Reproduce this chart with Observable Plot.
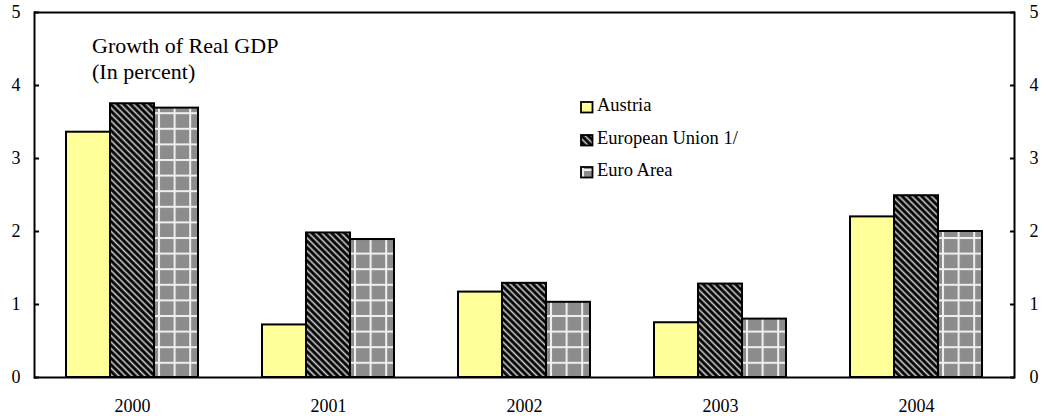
<!DOCTYPE html>
<html><head><meta charset="utf-8">
<script src="https://cdn.jsdelivr.net/npm/d3@7"></script>
<script src="https://cdn.jsdelivr.net/npm/@observablehq/plot@0.6"></script>
<style>
body{margin:0;background:#fff;font-family:"Liberation Serif","Times New Roman",serif;color:#000;}
#wrap{position:relative;width:1052px;height:416px;}
#title{position:absolute;left:92px;top:32.5px;font-size:22px;line-height:26.7px;white-space:nowrap;}
.lrow{position:absolute;left:580px;font-size:18.5px;line-height:18px;white-space:nowrap;}
.lrow svg{position:absolute;left:0;top:5px;}
.lrow span{position:absolute;left:17px;top:0;}
svg text{font-family:"Liberation Serif","Times New Roman",serif;}
</style></head><body>
<svg width="0" height="0" style="position:absolute">
<defs>
<pattern id="pat-eu" patternUnits="userSpaceOnUse" width="4.6" height="4.6" patternTransform="rotate(45)">
<rect width="4.6" height="4.6" fill="#000"/>
<rect x="0" y="1.5" width="4.6" height="1.6" fill="#d0d0d0"/>
</pattern>
<pattern id="pat-ea" patternUnits="userSpaceOnUse" width="15.6" height="15.6" x="2" y="3">
<rect width="15.6" height="15.6" fill="#8c8c8c"/>
<rect x="0" y="0" width="15.6" height="2" fill="#f0f0f0"/>
<rect x="0" y="0" width="2" height="15.6" fill="#f0f0f0"/>
</pattern>
</defs>
</svg>
<div id="wrap">
<div id="chart"></div>
<div id="title">Growth of Real GDP<br>(In percent)</div>
<div id="legend"></div>
</div>
<script>
const years = ["2000", "2001", "2002", "2003", "2004"];
const series = ["Austria", "European Union 1/", "Euro Area"];
const austria = [3.36, 0.72, 1.17, 0.75, 2.20];
const eu = [3.75, 1.98, 1.29, 1.28, 2.49];
const euroArea = [3.69, 1.89, 1.03, 0.80, 2.00];
const yTicks = [0, 1, 2, 3, 4, 5];
const fills = ["#ffff99", "url(#pat-eu)", "url(#pat-ea)"];

const valuesBySeries = [austria, eu, euroArea];
const data = years.flatMap((yr, i) => series.map((s, j) => ({year: yr, series: s, value: valuesBySeries[j][i]})));

const font = '"Liberation Serif","Times New Roman",serif';
const plot = Plot.plot({
  width: 1052, height: 416,
  marginLeft: 34, marginRight: 38, marginTop: 12, marginBottom: 39,
  style: {fontFamily: font, fontSize: "18px", color: "#000", background: "transparent", overflow: "visible"},
  fx: {domain: years, padding: 0, axis: null, label: null},
  x: {domain: series, paddingInner: 0, paddingOuter: 0.72, axis: null, label: null},
  y: {domain: [0, 5], axis: null, label: null},
  color: {domain: series, range: fills},
  marks: [
    Plot.barY(data, {fx: "year", x: "series", y: "value", fill: "series", stroke: "#000", strokeWidth: 2}),
    Plot.ruleY([0, 5], {stroke: "#000", strokeWidth: 2}),
    Plot.frame({anchor: "left", facetAnchor: "left", stroke: "#000", strokeWidth: 2}),
    Plot.frame({anchor: "right", facetAnchor: "right", stroke: "#000", strokeWidth: 2}),
    Plot.axisY(yTicks, {anchor: "left", tickSize: -5, tickPadding: 19, strokeWidth: 2, tickFormat: d3.format("d"), label: null, fontSize: 18}),
    Plot.axisY(yTicks, {anchor: "right", tickSize: -5, tickPadding: 20, strokeWidth: 2, tickFormat: d3.format("d"), label: null, fontSize: 18}),
    Plot.axisFx({anchor: "bottom", tickSize: 0, tickPadding: 22, label: null, fontSize: 18})
  ]
});
document.getElementById("chart").appendChild(plot);

const legend = document.getElementById("legend");
const rowTops = [96, 128.5, 161];
series.forEach((s, j) => {
  const row = document.createElement("div");
  row.className = "lrow";
  row.style.top = rowTops[j] + "px";
  row.innerHTML = `<svg width="14" height="13"><rect x="1" y="1" width="11.5" height="10.5" fill="${fills[j]}" stroke="#000" stroke-width="1.8"/></svg><span></span>`;
  row.querySelector("span").textContent = s;
  legend.appendChild(row);
});
</script>
</body></html>
